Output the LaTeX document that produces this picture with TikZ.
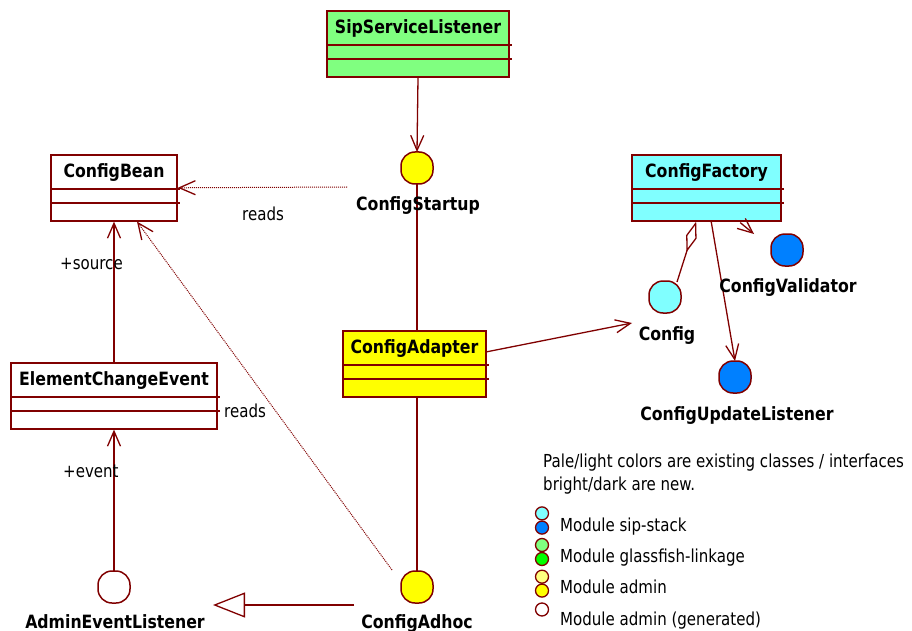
\documentclass[tikz,border=0pt]{standalone}
\usepackage{fontspec}
\setmainfont{DejaVu Sans}
\newfontfamily\normfont{DejaVu Sans}[FakeStretch=0.84]
\newfontfamily\boldfont{DejaVu Sans}[FakeStretch=0.86]
\usetikzlibrary{arrows.meta,calc}

\definecolor{umlred}{RGB}{128,0,0}
\definecolor{palecyan}{RGB}{128,255,255}
\definecolor{darkblue}{RGB}{0,128,255}
\definecolor{palegreen}{RGB}{128,255,128}
\definecolor{brightgreen}{RGB}{0,255,0}
\definecolor{paleyellow}{RGB}{255,255,128}
\definecolor{brightyellow}{RGB}{255,255,0}

\tikzset{
  classbox/.style={draw=umlred, line width=1.6pt, minimum height=66pt, inner sep=0pt},
  classtitle/.style={font=\boldfont\bfseries\fontsize{18.3}{21}\selectfont, anchor=base, inner sep=0pt},
  iface/.style={draw=umlred, line width=1.5pt, minimum size=32pt, inner sep=0pt, outer sep=0pt,
    rounded corners=14pt},
  ilabel/.style={font=\boldfont\bfseries\fontsize{18.3}{21}\selectfont, anchor=base, inner sep=0pt},
  note/.style={font=\normfont\fontsize{17.9}{21}\selectfont, anchor=base west, inner sep=0pt},
  assoc/.style={draw=umlred, line width=1.3pt},
  nav/.style={assoc, -{Straight Barb[length=15pt, width=13pt, line width=1.3pt]}},
  depend/.style={draw=umlred, line width=1pt, densely dotted,
    -{Straight Barb[length=16pt, width=14pt, line width=1.3pt]}},
  gen/.style={assoc, -{Triangle[open, length=32pt, width=25pt, line width=1.3pt]}},
  aggr/.style={assoc, -{Diamond[open, length=32pt, width=11pt, line width=1.3pt]}},
  legdot/.style={circle, draw=umlred, line width=1.3pt, minimum size=13pt, inner sep=0pt},
}

% class box: name, centre x, top y, width, fill, title
\newcommand\umlclass[6]{%
  \node[classbox, fill=#5, minimum width=#4pt, anchor=north] (#1) at (#2,#3) {};
  \node[classtitle] (#1-t) at ([yshift=-23.5pt]#1.north) {#6};
  \draw[umlred, line width=1.3pt] ([yshift=-35pt]#1.north west) -- ([yshift=-35pt, xshift=2pt]#1.north east);
  \draw[umlred, line width=1.3pt] ([yshift=-49pt]#1.north west) -- ([yshift=-49pt, xshift=2pt]#1.north east);
}

\begin{document}
\begin{tikzpicture}[x=1pt, y=-1pt]
\useasboundingbox (0,0) rectangle (912,631);

% classes
\umlclass{sip}{418}{10}{182}{palegreen}{SipServiceListener}
\umlclass{cb}{114}{154}{126}{white}{ConfigBean}
\umlclass{ece}{114}{362}{206}{white}{ElementChangeEvent}
\umlclass{cad}{414.5}{330}{143}{brightyellow}{ConfigAdapter}
\umlclass{cf}{706.5}{154}{149}{palecyan}{ConfigFactory}

% interfaces
\node[iface, fill=brightyellow] (cs) at (417,168) {};
\node[iface, fill=brightyellow] (cah) at (417,587) {};
\node[iface, fill=white] (ael) at (114,587) {};
\node[iface, fill=palecyan] (cfg) at (665,297) {};
\node[iface, fill=darkblue] (cv) at (787,250) {};
\node[iface, fill=darkblue] (cul) at (735,377) {};

% free ends of connectors
\coordinate (csr) at (347,187);
\coordinate (cahr) at (392,570);
\coordinate (cahg) at (354,605);
\coordinate (aelg) at (213,605);
\coordinate (cfgin) at (632,323);
\coordinate (cvin) at (754,234);

% connectors
\draw[nav] (sip.south) -- (cs.north);
\draw[assoc] (cs.south) -- (cs.south |- cad.north);
\draw[assoc] (cah.north |- cad.south) -- (cah.north);
\draw[depend] (csr) -- (cb.east);
\draw[depend] (cahr) -- ($(cb.south)+(23,0)$);
\draw[nav] (ece.north) -- (cb.south);
\draw[nav] (ael.north) -- (ece.south);
\draw[gen] (cahg) -- (aelg);
\draw[nav] ([yshift=12pt]cad.east) -- (cfgin);
\draw[aggr] ($(cfg.center)+(12,-15)$) -- ($(cf.south west)+(65,0)$);
\draw[nav] ($(cf.south west)+(80,0)$) -- (cul.north);
\draw[nav] ($(cf.south west)+(109,1)$) -- (cvin);

% interface names
\node[ilabel] (cs-l) at (418,211) {ConfigStartup};
\node[ilabel] (cah-l) at (417,628) {ConfigAdhoc};
\node[ilabel] (ael-l) at (115,628) {AdminEventListener};
\node[ilabel] (cfg-l) at (667,340) {Config};
\node[ilabel] (cv-l) at (788,292) {ConfigValidator};
\node[ilabel] (cul-l) at (737,420) {ConfigUpdateListener};

% connector labels
\node[note] (r1) at (242,220) {reads};
\node[note] (r2) at (224,417) {reads};
\node[note] (src) at (60,269) {+source};
\node[note] (evt) at (63,477) {+event};

% legend
\node[note] (l1) at (543,467) {Pale/light colors are existing classes / interfaces};
\node[note] (l2) at (543,490) {bright/dark are new.};
\node[legdot, fill=palecyan] (d1) at (542,513.4) {};
\node[legdot, fill=darkblue] (d2) at (542,527.6) {};
\node[legdot, fill=palegreen] (d3) at (542,545) {};
\node[legdot, fill=brightgreen] (d4) at (542,559) {};
\node[legdot, fill=paleyellow] (d5) at (542,576.7) {};
\node[legdot, fill=brightyellow] (d6) at (542,590.6) {};
\node[legdot, fill=white] (d7) at (542,609.5) {};
\node[note] (m1) at (560,531) {Module sip-stack};
\node[note] (m2) at (560,562) {Module glassfish-linkage};
\node[note] (m3) at (560,593) {Module admin};
\node[note] (m4) at (560,625) {Module admin (generated)};
\end{tikzpicture}
\end{document}
